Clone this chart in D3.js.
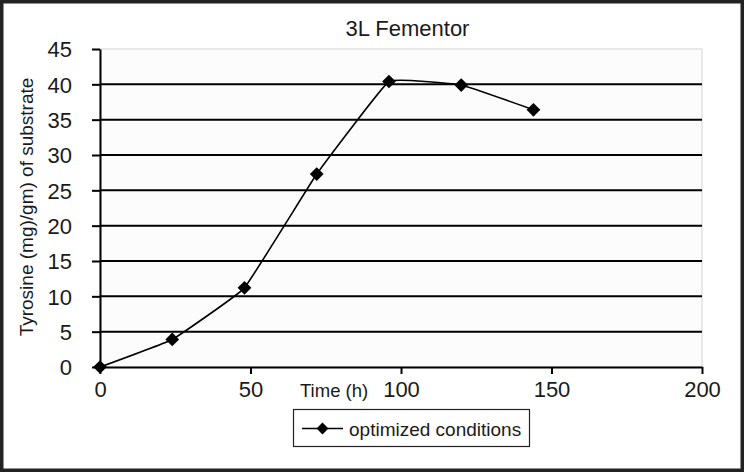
<!DOCTYPE html>
<html>
<head>
<meta charset="utf-8">
<script src="https://cdn.jsdelivr.net/npm/d3@7"></script>
<style>
  html, body { margin: 0; padding: 0; background: #fff; }
  svg { display: block; font-family: Arial, "Liberation Sans", sans-serif; }
</style>
</head>
<body>
<svg id="chart" width="744" height="472"></svg>
<script>
const title = "3L Fementor";
const xLabel = "Time (h)";
const yLabel = "Tyrosine (mg)/gm) of substrate";
const seriesName = "optimized conditions";
const timeHours = [0, 24, 48, 72, 96, 120, 144];
const tyrosine = [0, 3.9, 11.2, 27.3, 40.4, 39.9, 36.4];
const xTicks = [0, 50, 100, 150, 200];
const yTicks = [0, 5, 10, 15, 20, 25, 30, 35, 40, 45];

(function () {
const svg = d3.select("#chart");
const W = 744, H = 472;
const pLeft = 100, pRight = 702, pTop = 49, pBottom = 367;
const FONT = "Arial, 'Liberation Sans', sans-serif";
const TXT = "#1a1a1a";

// outer frame
svg.append("rect").attr("x", 1.5).attr("y", 1.5).attr("width", W - 3).attr("height", H - 3)
  .attr("fill", "#fff").attr("stroke", "#222").attr("stroke-width", 4);

const x = d3.scaleLinear().domain([0, 200]).range([pLeft, pRight]);
const y = d3.scaleLinear().domain([0, 45]).range([pBottom, pTop]);

// plot area
svg.append("rect").attr("x", pLeft).attr("y", pTop).attr("width", pRight - pLeft).attr("height", pBottom - pTop)
  .attr("fill", "#fcfcfc").attr("stroke", "#d4d4d4").attr("stroke-width", 1);

// gridlines
svg.append("g").selectAll("line").data(yTicks.filter(d => d > 0 && d < 45)).join("line")
  .attr("x1", pLeft).attr("x2", pRight)
  .attr("y1", d => y(d)).attr("y2", d => y(d))
  .attr("stroke", "#000").attr("stroke-width", 2);

// y axis
const yAxis = svg.append("g").attr("transform", `translate(${pLeft},0)`)
  .call(d3.axisLeft(y).tickValues(yTicks).tickSize(8).tickSizeOuter(0).tickPadding(20));
yAxis.select(".domain").attr("stroke", "#000").attr("stroke-width", 2);
yAxis.selectAll(".tick line").attr("stroke", "#000").attr("stroke-width", 2);
yAxis.selectAll(".tick text").attr("font-size", 22).attr("fill", TXT)
  .attr("font-family", FONT).attr("dy", "0.36em");

// x axis
const xAxis = svg.append("g").attr("transform", `translate(0,${pBottom})`)
  .call(d3.axisBottom(x).tickValues(xTicks).tickSize(7).tickSizeOuter(0).tickPadding(7));
xAxis.select(".domain").attr("stroke", "#000").attr("stroke-width", 2);
xAxis.selectAll(".tick line").attr("stroke", "#000").attr("stroke-width", 2);
xAxis.selectAll(".tick text").attr("font-size", 22).attr("fill", TXT)
  .attr("font-family", FONT);

// title
svg.append("text").attr("x", 407.5).attr("y", 36).attr("text-anchor", "middle")
  .attr("font-size", 22).attr("fill", TXT).text(title);

// x label
svg.append("text").attr("x", 300).attr("y", 397).attr("font-size", 18.5).attr("fill", TXT).text(xLabel);

// y label
svg.append("text").attr("transform", "translate(33,207) rotate(-90)").attr("text-anchor", "middle")
  .attr("font-size", 19).attr("fill", TXT).text(yLabel);

// series line
const data = timeHours.map((t, i) => ({t, v: tyrosine[i]}));
const line = d3.line().x(d => x(d.t)).y(d => y(d.v)).curve(d3.curveCardinal.tension(0.75));
svg.append("path").datum(data).attr("d", line)
  .attr("fill", "none").attr("stroke", "#000").attr("stroke-width", 1.6);

const diamond = d3.symbol().type(d3.symbolDiamond2).size(120);
svg.append("g").selectAll("path").data(data).join("path")
  .attr("transform", d => `translate(${x(d.t)},${y(d.v)})`)
  .attr("d", diamond).attr("fill", "#000");

// legend
const lg = svg.append("g");
lg.append("rect").attr("x", 293.5).attr("y", 409.5).attr("width", 236).attr("height", 37)
  .attr("fill", "#fff").attr("stroke", "#222").attr("stroke-width", 1.2);
lg.append("line").attr("x1", 302).attr("x2", 343).attr("y1", 428.5).attr("y2", 428.5)
  .attr("stroke", "#000").attr("stroke-width", 1.6);
lg.append("path").attr("transform", "translate(322.5,428.5)").attr("d", d3.symbol().type(d3.symbolDiamond2).size(90)).attr("fill", "#000");
lg.append("text").attr("x", 349).attr("y", 436).attr("font-size", 19).attr("fill", TXT).text(seriesName);
})();
</script>
</body>
</html>
